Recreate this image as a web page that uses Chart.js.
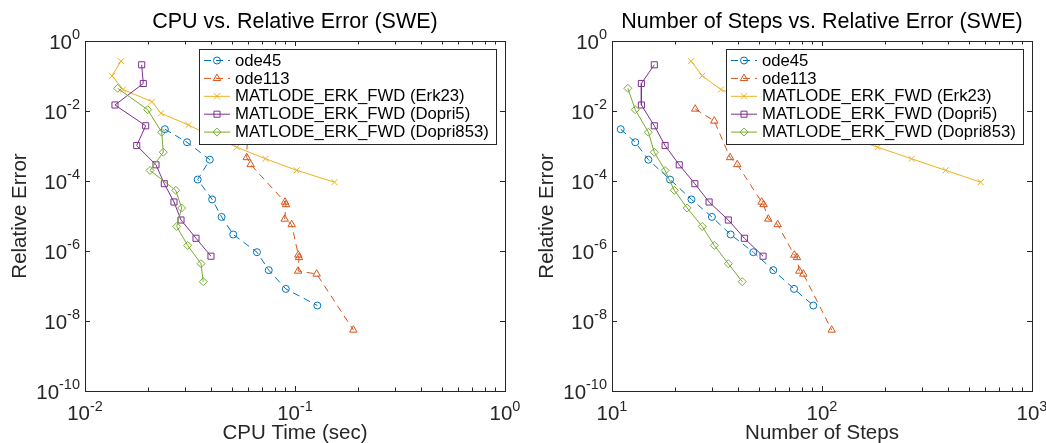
<!DOCTYPE html>
<html><head><meta charset="utf-8">
<script src="https://cdn.jsdelivr.net/npm/chart.js@4.4.0/dist/chart.umd.min.js"></script>
<style>
html,body{margin:0;padding:0;background:#fff;}
#wrap{position:relative;width:1046px;height:443px;overflow:hidden;background:#fff;}
.pane{position:absolute;top:0;width:523px;height:443px;}
</style></head><body>
<div id="wrap">
<div class="pane" style="left:0"><canvas id="c1" width="523" height="443"></canvas></div>
<div class="pane" style="left:523px"><canvas id="c2" width="523" height="443"></canvas></div>
</div>
<script>
// ---------------- data ----------------
const seriesNames = ['ode45', 'ode113', 'MATLODE_ERK_FWD (Erk23)', 'MATLODE_ERK_FWD (Dopri5)', 'MATLODE_ERK_FWD (Dopri853)'];

const cpuOde45   = [0.0240, 0.0306, 0.0393, 0.0344, 0.0403, 0.0447, 0.0508, 0.0659, 0.0750, 0.0904, 0.1277];
const stepsOde45 = [11.0, 12.9, 14.9, 18.9, 23.9, 29.9, 36.7, 47.1, 58.6, 73.6, 90.9];
const errOde45   = [3.02e-3, 1.28e-3, 4.06e-4, 1.10e-4, 2.98e-5, 9.42e-6, 2.96e-6, 9.24e-7, 2.83e-7, 8.26e-8, 2.77e-8];

const cpuOde113   = [0.0547, 0.0597, 0.0589, 0.0615, 0.0896, 0.0906, 0.0893, 0.0964, 0.1037, 0.1045, 0.1035, 0.1268, 0.1897];
const stepsOde113 = [24.9, 30.7, 36.5, 39.5, 51.6, 52.7, 55.5, 61.5, 73.8, 76.0, 78.0, 81.5, 111.2];
const errOde113   = [1.14e-2, 5.18e-3, 4.69e-4, 2.96e-4, 2.51e-5, 2.13e-5, 8.2e-6, 5.71e-6, 7.69e-7, 6.52e-7, 2.68e-7, 2.2e-7, 5.53e-9];

const cpuErk23   = [0.01483, 0.01345, 0.01517, 0.02084, 0.02301, 0.03111, 0.0403, 0.0528, 0.0724, 0.1019, 0.1542];
const stepsErk23 = [23.8, 26.9, 33.0, 46.5, 65.6, 92.5, 130, 184, 267, 388, 570];
const errErk23   = [0.265, 0.1014, 0.0411, 0.01845, 8.6e-3, 3.98e-3, 1.85e-3, 9.24e-4, 4.31e-4, 2.02e-4, 9.24e-5];

const cpuDopri5   = [0.01862, 0.01895, 0.01389, 0.01945, 0.01763, 0.02178, 0.02386, 0.02653, 0.02865, 0.03378, 0.0398];
const stepsDopri5 = [15.9, 13.8, 13.8, 15.9, 17.9, 20.9, 24.8, 29.0, 35.8, 42.7, 52.4];
const errDopri5   = [0.209, 0.0611, 0.01484, 3.78e-3, 1.03e-3, 2.9e-4, 8.37e-5, 2.51e-5, 7.69e-6, 2.31e-6, 7.1e-7];

const cpuDopri853   = [0.01431, 0.01989, 0.02318, 0.0236, 0.0204, 0.02704, 0.02886, 0.02733, 0.03083, 0.03567, 0.03657];
const stepsDopri853 = [11.9, 12.9, 14.9, 15.9, 17.9, 19.8, 22.8, 26.9, 30.7, 35.8, 41.7];
const errDopri853   = [0.0445, 0.01089, 2.48e-3, 6.65e-4, 2.0e-4, 5.42e-5, 1.69e-5, 5.01e-6, 1.44e-6, 4.34e-7, 1.33e-7];

// tick labels (powers of ten)
const xTickExpCpu   = [-2, -1, 0];
const xTickExpSteps = [1, 2, 3];
const yTickExp      = [0, -2, -4, -6, -8, -10];

const titles  = ['CPU vs. Relative Error (SWE)', 'Number of Steps vs. Relative Error (SWE)'];
const xLabels = ['CPU Time (sec)', 'Number of Steps'];
const yLabel  = 'Relative Error';

// ---------------- styles ----------------
const COLORS = ['#0072BD', '#D95319', '#EDB120', '#7E2F8E', '#77AC30'];
const STYLES = [
  {pointStyle: 'circle',   r: 3.5, dash: [7, 5]},
  {pointStyle: 'triangle', r: 4.3, dash: [7, 5]},
  {pointStyle: 'crossRot', r: 4.3, dash: []},
  {pointStyle: 'rect',     r: 4.3, dash: []},
  {pointStyle: 'rectRot',  r: 4.0, dash: []}
];
const AX = '#262626';
const FONT = '"Liberation Sans", Arial, Helvetica, sans-serif';

function makeDatasets(xsList, ysList) {
  return xsList.map((xs, i) => ({
    label: seriesNames[i],
    data: xs.map((x, j) => ({x: x, y: ysList[i][j]})),
    borderColor: COLORS[i],
    backgroundColor: COLORS[i],
    borderWidth: 1,
    borderDash: STYLES[i].dash,
    pointStyle: STYLES[i].pointStyle,
    pointRadius: STYLES[i].r,
    pointHoverRadius: STYLES[i].r,
    pointBorderColor: COLORS[i],
    pointBackgroundColor: 'rgba(0,0,0,0)',
    pointBorderWidth: 1,
    tension: 0,
    fill: false,
    order: 5 - i
  }));
}

function drawPow(ctx, exp, x, y, align) {
  const bs = 20.5, es = 14.5;
  ctx.font = bs + 'px ' + FONT;
  const wb = ctx.measureText('10').width;
  ctx.font = es + 'px ' + FONT;
  const et = String(exp);
  const we = ctx.measureText(et).width;
  const tot = wb + we;
  let sx = align === 'right' ? x - tot : x - tot / 2;
  ctx.textAlign = 'left';
  ctx.textBaseline = 'alphabetic';
  ctx.font = bs + 'px ' + FONT;
  ctx.fillText('10', sx, y);
  ctx.font = es + 'px ' + FONT;
  ctx.fillText(et, sx + wb, y - 9.5);
}

function matlabPlugin(k) {
  return {
    id: 'matlab' + k,
    afterDraw(chart) {
      const ctx = chart.ctx, a = chart.chartArea;
      const xs = chart.scales.x, ys = chart.scales.y;
      const xExp = k === 0 ? xTickExpCpu : xTickExpSteps;
      const L = Math.round(a.left), R = Math.round(a.right), T = Math.round(a.top), B = Math.round(a.bottom);
      ctx.save();
      ctx.strokeStyle = AX; ctx.lineWidth = 1; ctx.setLineDash([]);
      ctx.strokeRect(L + 0.5, T + 0.5, R - L, B - T);
      ctx.beginPath();
      for (let i = 0; i < xExp.length; i++) {
        const e = xExp[i];
        const px = Math.round(xs.getPixelForValue(Math.pow(10, e))) + 0.5;
        ctx.moveTo(px, B); ctx.lineTo(px, B - 5);
        ctx.moveTo(px, T); ctx.lineTo(px, T + 5);
        if (i < xExp.length - 1) {
          for (let m = 2; m <= 9; m++) {
            const mx = Math.round(xs.getPixelForValue(m * Math.pow(10, e))) + 0.5;
            ctx.moveTo(mx, B); ctx.lineTo(mx, B - 3.5);
            ctx.moveTo(mx, T); ctx.lineTo(mx, T + 3.5);
          }
        }
      }
      yTickExp.forEach(e => {
        const py = Math.round(ys.getPixelForValue(Math.pow(10, e))) + 0.5;
        ctx.moveTo(L, py); ctx.lineTo(L + 5, py);
        ctx.moveTo(R, py); ctx.lineTo(R - 5, py);
      });
      ctx.stroke();

      ctx.fillStyle = AX;
      xExp.forEach(e => drawPow(ctx, e, xs.getPixelForValue(Math.pow(10, e)), B + 29, 'center'));
      yTickExp.forEach(e => drawPow(ctx, e, L - 5, ys.getPixelForValue(Math.pow(10, e)) + 7.5, 'right'));

      ctx.font = '20.5px ' + FONT;
      ctx.textAlign = 'center';
      ctx.textBaseline = 'alphabetic';
      ctx.fillText(xLabels[k], (L + R) / 2, 439);
      ctx.save();
      ctx.translate(L - 66, (T + B) / 2);
      ctx.rotate(-Math.PI / 2);
      ctx.fillText(yLabel, 0, 7);
      ctx.restore();

      ctx.fillStyle = '#000';
      ctx.font = '21.5px ' + FONT;
      ctx.textAlign = 'center';
      ctx.fillText(titles[k], (L + R) / 2, 28);

      const bw = 297, bh = 95;
      const bx = R - 9 - bw, by = T + 8;
      ctx.fillStyle = '#fff';
      ctx.fillRect(bx, by, bw, bh);
      ctx.strokeStyle = AX; ctx.lineWidth = 1;
      ctx.strokeRect(Math.round(bx) + 0.5, Math.round(by) + 0.5, bw, bh);
      ctx.font = '16.7px ' + FONT;
      ctx.textAlign = 'left';
      ctx.textBaseline = 'middle';
      chart.data.datasets.forEach((ds, i) => {
        const ry = by + 11.5 + i * 17.9;
        ctx.strokeStyle = ds.borderColor;
        ctx.lineWidth = 1;
        ctx.setLineDash(ds.borderDash || []);
        ctx.beginPath();
        ctx.moveTo(bx + 5, ry); ctx.lineTo(bx + 31, ry);
        ctx.stroke();
        ctx.setLineDash([]);
        ctx.fillStyle = 'rgba(0,0,0,0)';
        if (Chart.helpers && Chart.helpers.drawPoint) {
          Chart.helpers.drawPoint(ctx, {pointStyle: ds.pointStyle, radius: ds.pointRadius, rotation: 0, borderWidth: 1}, bx + 18, ry);
        }
        ctx.fillStyle = '#000';
        ctx.fillText(ds.label, bx + 36, ry + 0.5);
      });
      ctx.restore();
    }
  };
}

function makeChart(id, k, xsList, xmin, xmax, yAxisWidth, padRight) {
  return new Chart(document.getElementById(id), {
    type: 'line',
    data: {datasets: makeDatasets(xsList, [errOde45, errOde113, errErk23, errDopri5, errDopri853])},
    options: {
      responsive: false,
      animation: false,
      devicePixelRatio: 1,
      layout: {padding: {top: 41, right: padRight, left: 0, bottom: 0}},
      plugins: {legend: {display: false}, title: {display: false}, tooltip: {enabled: false}},
      scales: {
        x: {
          type: 'logarithmic', min: xmin, max: xmax,
          grid: {display: false}, border: {display: false}, ticks: {display: false},
          afterFit: s => { s.height = 52; }
        },
        y: {
          type: 'logarithmic', min: 1e-10, max: 1,
          grid: {display: false}, border: {display: false}, ticks: {display: false},
          afterFit: s => { s.width = yAxisWidth; }
        }
      }
    },
    plugins: [matlabPlugin(k)]
  });
}

makeChart('c1', 0, [cpuOde45, cpuOde113, cpuErk23, cpuDopri5, cpuDopri853], 0.01, 1, 85, 18);
makeChart('c2', 1, [stepsOde45, stepsOde113, stepsErk23, stepsDopri5, stepsDopri853], 10, 1000, 89, 14);
</script>
</body></html>
